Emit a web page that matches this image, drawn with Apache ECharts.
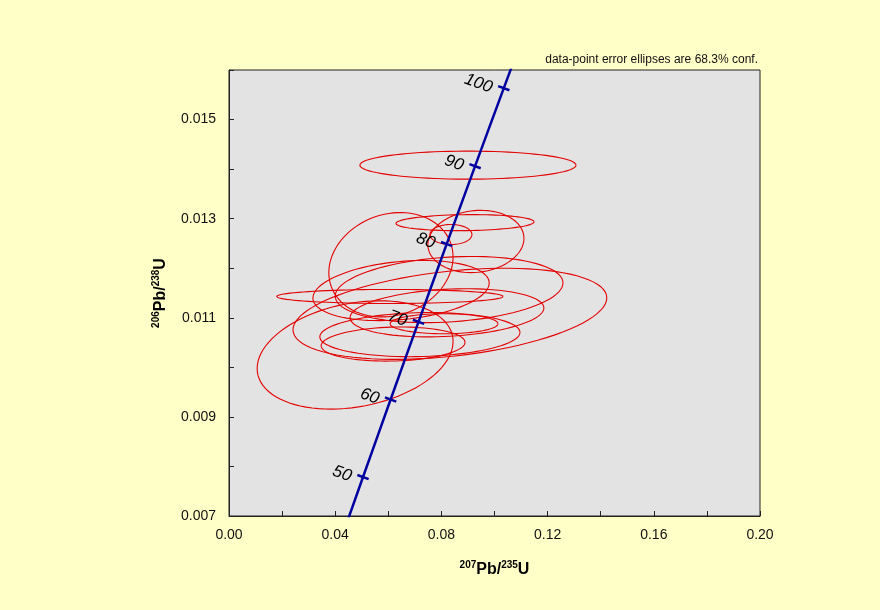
<!DOCTYPE html>
<html>
<head>
<meta charset="utf-8">
<script src="https://cdn.jsdelivr.net/npm/echarts@6/dist/echarts.min.js"></script>
<style>
  html, body { margin: 0; padding: 0; background: #ffffc8; }
  #main { width: 880px; height: 610px; }
</style>
</head>
<body>
<div id="main"></div>
<script>
// concordia curve points (207Pb/235U, 206Pb/238U)
const curveX = [0.044286, 0.050475, 0.05566, 0.060872, 0.066108, 0.071371, 0.07666, 0.081975, 0.087316, 0.092683, 0.098078, 0.103498, 0.108945]
const curveY = [0.0068483, 0.0077865, 0.008568, 0.0093509, 0.010134, 0.010918, 0.011702, 0.012487, 0.013273, 0.014059, 0.014846, 0.015633, 0.016422]

// age marks on the concordia (Ma)
const tickAges = [50, 60, 70, 80, 90, 100]
const tickX = [0.050475, 0.060872, 0.071371, 0.081975, 0.092683, 0.103498]
const tickY = [0.0077865, 0.0093509, 0.010918, 0.012487, 0.014059, 0.015633]

// error ellipses: centre, half width (x), half height (y), correlation
const ellX     = [0.0900, 0.0889, 0.0836, 0.0930, 0.0610, 0.0606, 0.0648, 0.0829, 0.0832, 0.0475, 0.0618, 0.0810, 0.0821, 0.0719]
const ellHalfX = [0.0407, 0.0260, 0.0079, 0.0181, 0.0234, 0.0426, 0.0332, 0.0429, 0.0591, 0.0369, 0.0271, 0.0203, 0.0365, 0.0377]
const ellY     = [0.01408, 0.01292, 0.01268, 0.01254, 0.01207, 0.01143, 0.01155, 0.01157, 0.01108, 0.01025, 0.01047, 0.01088, 0.01110, 0.01066]
const ellHalfY = [0.000283, 0.000162, 0.000202, 0.000628, 0.001053, 0.000142, 0.000607, 0.000668, 0.00092, 0.001093, 0.000344, 0.000202, 0.000486, 0.000445]
const ellRho   = [0, 0.1, 0, 0.1, 0.15, 0, 0.25, 0.2, 0.35, 0.25, 0.1, 0, 0.2, 0.1]

const chart = echarts.init(document.getElementById('main'))

const curveData = curveX.map((x, i) => [x, curveY[i]])
const tickData = tickX.map((x, i) => [x, tickY[i], tickAges[i]])
const ellData = ellX.map((x, i) => [x, ellHalfX[i], ellY[i], ellHalfY[i], ellRho[i]])

const richName = {
  sup: { fontSize: 10, fontWeight: 'bold', verticalAlign: 'top', color: '#000', fontFamily: 'Liberation Sans' },
  b: { fontSize: 16, fontWeight: 'bold', color: '#000', fontFamily: 'Liberation Sans', lineHeight: 20 }
}

const option = {
  backgroundColor: '#ffffc8',
  animation: false,
  graphic: [{
    type: 'text',
    right: 122,
    top: 54,
    style: { text: 'data-point error ellipses are 68.3% conf.', fontSize: 12, fill: '#111', fontFamily: 'Liberation Sans' }
  }],
  grid: {
    left: 229, right: 120, top: 70, bottom: 94,
    show: true, backgroundColor: '#e3e3e3', borderColor: '#222', borderWidth: 1
  },
  xAxis: {
    type: 'value', min: 0, max: 0.2, interval: 0.02,
    splitLine: { show: false },
    axisLine: { lineStyle: { color: '#222', width: 1 } },
    axisTick: { inside: true, length: 5, lineStyle: { color: '#222' } },
    axisLabel: {
      margin: 12, fontSize: 14, color: '#111', fontFamily: 'Liberation Sans',
      formatter: v => (Math.round(v / 0.02) % 2 === 0 ? v.toFixed(2) : '')
    },
    name: '{sup|207}{b|Pb/}{sup|235}{b|U}',
    nameLocation: 'middle', nameGap: 44,
    nameTextStyle: { rich: richName }
  },
  yAxis: {
    type: 'value', min: 0.007, max: 0.016, interval: 0.001,
    splitLine: { show: false },
    axisLine: { lineStyle: { color: '#222', width: 1 } },
    axisTick: { inside: true, length: 5, lineStyle: { color: '#222' } },
    axisLabel: {
      margin: 13, fontSize: 14, color: '#111', fontFamily: 'Liberation Sans',
      formatter: v => (Math.round(v * 1000) % 2 === 1 ? v.toFixed(3) : '')
    },
    name: '{sup|206}{b|Pb/}{sup|238}{b|U}',
    nameLocation: 'middle', nameGap: 58, nameRotate: 90,
    nameTextStyle: { rich: richName }
  },
  series: [
    {
      type: 'custom',
      coordinateSystem: 'cartesian2d',
      data: ellData,
      encode: { x: 0, y: 2 },
      z: 2,
      renderItem: (params, api) => {
        const cx = api.value(0), a = api.value(1), cy = api.value(2), b = api.value(3), r = api.value(4)
        const s = Math.sqrt(1 - r * r)
        const pts = []
        for (let k = 0; k <= 90; k++) {
          const t = k / 90 * Math.PI * 2
          pts.push(api.coord([cx + a * Math.cos(t), cy + b * (r * Math.cos(t) + s * Math.sin(t))]))
        }
        return {
          type: 'polyline',
          shape: { points: pts },
          style: { fill: null, stroke: '#e40000', lineWidth: 1.1 }
        }
      }
    },
    {
      type: 'line',
      data: curveData,
      symbol: 'none',
      clip: true,
      z: 3,
      lineStyle: { color: '#0000a0', width: 2.5 }
    },
    {
      type: 'scatter',
      data: tickData,
      z: 4,
      symbol: 'rect',
      symbolSize: [12, 2.5],
      symbolRotate: -20,
      itemStyle: { color: '#0000a0', opacity: 1 },
      label: {
        show: true,
        position: 'left',
        distance: 6,
        rotate: -20,
        fontSize: 17,
        fontStyle: 'italic',
        color: '#000',
        opacity: 1,
        fontFamily: 'Liberation Sans',
        formatter: p => String(p.value[2])
      }
    }
  ]
}

chart.setOption(option)
</script>
</body>
</html>
